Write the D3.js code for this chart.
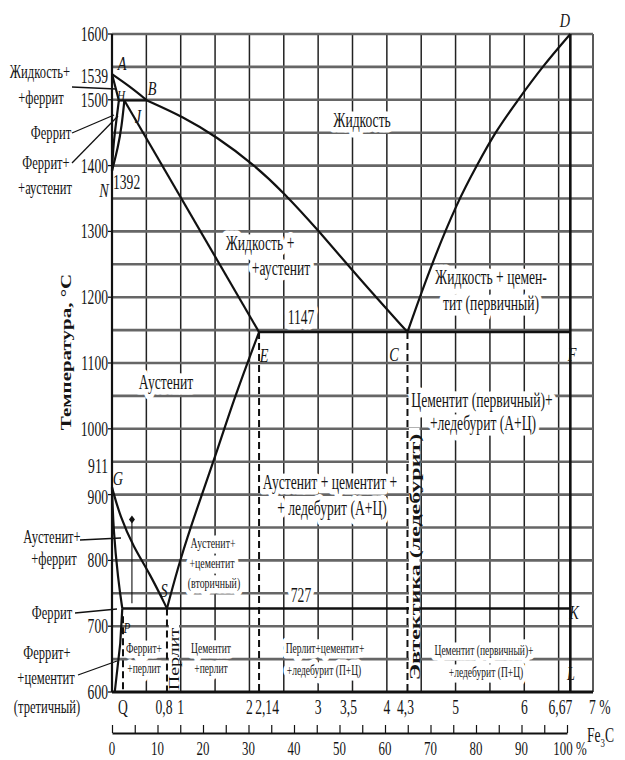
<!DOCTYPE html>
<html><head><meta charset="utf-8">
<script src="https://cdn.jsdelivr.net/npm/d3@7/dist/d3.min.js"></script>
<style>
body{margin:0;background:#fff}
svg{display:block}
text{font-family:"Liberation Serif","Times New Roman",serif;fill:#151515}
</style>
</head><body>
<svg id="chart" width="625" height="760"></svg>
<script>
// ---------------- DATA ----------------
const tempTicks = [600,700,800,900,1000,1100,1200,1300,1400,1500,1600];
const specialTemps = [1539, 911];
const carbonLabelValues = [0.16,0.8,1,2,2.14,3,3.5,4,4.3,5,6,6.67,7];
const carbonLabels = ["Q","0,8","1","2","2,14","3","3,5","4","4,3","5","6","6,67","7 %"];
const fe3cTicks = d3.range(0,101,5);
const fe3cLabelValues = [0,10,20,30,40,50,60,70,80,90,100];
const fe3cLabels = ["0","10","20","30","40","50","60","70","80","90","100 %"];

// phase boundaries: [carbon %, temperature °C]
const lineAB  = [[0,1539],[0.25,1521],[0.51,1499]];
const lineBC  = [[0.51,1499],[1.04,1474],[1.52,1444],[2.06,1402],[2.49,1360],[3.0,1302],[3.6,1228],[4.3,1147]];
const lineAH  = [[0,1539],[0.05,1519],[0.1,1499]];
const lineHJB = [[0.1,1499],[0.51,1499]];
const lineNH  = [[0,1392],[0.02,1433],[0.07,1474],[0.1,1499]];
const lineNJ  = [[0,1392],[0.09,1429],[0.14,1459],[0.18,1499]];
const lineJE  = [[0.18,1499],[2.14,1147]];
const lineECF = [[2.14,1147],[6.67,1147]];
const lineCD  = [[4.3,1147],[4.63,1245],[5.04,1348],[5.31,1400],[5.57,1450],[5.91,1500],[6.26,1550],[6.67,1600]];
const lineGS  = [[0,911],[0.12,866],[0.31,821],[0.55,780],[0.8,727]];
const lineSE  = [[0.8,727],[0.99,801],[1.23,877],[1.52,963],[1.77,1044],[2.14,1147]];
const lineGP  = [[0,911],[0.02,846],[0.09,770],[0.15,727]];
const linePQ  = [[0.15,727],[0.12,674],[0.04,600]];
const linePSK = [[0.15,727],[6.67,727]];
const lineDL  = [[6.67,1600],[6.67,600]];
const dashedLines = [
  [[0.16,715],[0.16,600]],
  [[0.8,727],[0.8,600]],
  [[2.14,1147],[2.14,600]],
  [[4.3,1147],[4.3,600]]
];
const alloyMark = [[0.29,860],[0.29,735]];

// ---------------- SETUP ----------------
const svg = d3.select("#chart");
const cx = d3.scaleLinear().domain([0,7]).range([112,593]);
const ty = d3.scaleLinear().domain([600,1600]).range([692,34]);
const fx = d3.scaleLinear().domain([0,100]).range([112,567]);
const line = d3.line().x(d=>cx(d[0])).y(d=>ty(d[1]));
const curve = d3.line().x(d=>cx(d[0])).y(d=>ty(d[1])).curve(d3.curveBasis);

function T(g, s, x, y, o={}) {
  const size = o.size || 20, sx = o.sx || 0.68;
  let tr = `translate(${x},${y})`;
  tr += o.rotate ? ` rotate(${o.rotate}) scale(1,${sx})` : ` scale(${sx},1)`;
  const t = g.append("text")
    .attr("transform", tr)
    .attr("text-anchor", o.anchor || "middle")
    .attr("dy", o.dy || "0.35em")
    .style("font-size", size + "px");
  if (o.weight) t.style("font-weight", o.weight);
  if (o.italic) t.style("font-style", "italic");
  if (o.ls) t.style("letter-spacing", o.ls + "px");
  if (o.halo) t.attr("stroke","#fff").attr("stroke-width",o.halo)
      .attr("paint-order","stroke").attr("stroke-linejoin","round");
  t.text(s);
  return t;
}

// ---------------- GRID ----------------
const grid = svg.append("g");
grid.selectAll(".v").data(d3.range(0.5,7.01,0.5)).join("line")
  .attr("x1",d=>cx(d)).attr("x2",d=>cx(d)).attr("y1",ty(1600)).attr("y2",ty(600))
  .attr("stroke","#222").attr("stroke-width",1.5);
grid.selectAll(".h").data(d3.range(650,1601,50)).join("line")
  .attr("x1",cx(0)).attr("x2",cx(7)).attr("y1",d=>ty(d)).attr("y2",d=>ty(d))
  .attr("stroke","#666").attr("stroke-width",2.6);

// ---------------- REGION LABELS (with white halo) ----------------
const lab = svg.append("g");
const H = 11;
T(lab,"Жидкость",362,120,{halo:H});
T(lab,"Жидкость +",260,243,{halo:H});
T(lab,"+аустенит",281,268,{halo:H});
T(lab,"1147",301,317,{halo:H});
T(lab,"Жидкость + цемен-",491,277,{halo:H});
T(lab,"тит (первичный)",491,303,{halo:H});
T(lab,"Аустенит",166,382,{halo:H});
T(lab,"Цементит (первичный)+",482,400,{halo:H});
T(lab,"+ледебурит (А+Ц)",483,423,{halo:H});
T(lab,"Аустенит + цементит +",330,482,{halo:H});
T(lab,"+ ледебурит (А+Ц)",332,508,{halo:H});
T(lab,"727",301,595,{halo:H});
T(lab,"Аустенит+",213,543,{size:14.5,halo:H});
T(lab,"+цементит",212,563,{size:14.5,halo:H});
T(lab,"(вторичный)",214,583,{size:14.5,halo:H});
T(lab,"Феррит+",144,648,{size:14,halo:H});
T(lab,"+перлит",144,668,{size:14,halo:H});
T(lab,"Цементит",211,648,{size:14,halo:H});
T(lab,"+перлит",211,668,{size:14,halo:H});
T(lab,"Перлит+цементит+",325,648,{size:14,halo:H});
T(lab,"+ледебурит (П+Ц)",324,670,{size:14,halo:H});
T(lab,"Цементит (первичный)+",484,650,{size:14,halo:H});
T(lab,"+ледебурит (П+Ц)",486,672,{size:14,halo:H});

// ---------------- AXES ----------------
const ax = svg.append("g");
ax.append("line").attr("x1",cx(0)).attr("x2",cx(0)).attr("y1",ty(1600)).attr("y2",ty(600))
  .attr("stroke","#111").attr("stroke-width",2.2);
ax.selectAll(".yt").data(tempTicks).join("line")
  .attr("x1",cx(0)-4).attr("x2",cx(0)).attr("y1",d=>ty(d)).attr("y2",d=>ty(d))
  .attr("stroke","#111").attr("stroke-width",1.3);
tempTicks.forEach(v => T(ax, String(v), 108, ty(v) + (v===900 ? 2 : 0), {anchor:"end"}));
specialTemps.forEach(v => T(ax, String(v), 108, ty(v) + (v===911 ? -21 : 2), {anchor:"end"}));
T(ax,"1392",113,182,{anchor:"start"});
T(ax,"Температура, °C",66,352,{rotate:-90,size:21,weight:"bold",sx:0.72});

carbonLabels.forEach((s,i) => {
  const v = carbonLabelValues[i];
  let x = cx(v), anchor = "middle";
  if (s === "0,8") x -= 3;
  if (s === "2,14") x += 8;
  if (s === "3,5") x -= 4;
  if (s === "4,3") x -= 2;
  if (s === "6,67") x -= 10;
  if (s === "7 %") { x -= 4; anchor = "start"; }
  T(ax, s, x, 707, {anchor});
});

const fAxis = d3.axisBottom(fx).tickValues(fe3cTicks).tickSize(-8).tickFormat("").tickSizeOuter(0);
const fg = ax.append("g").attr("transform","translate(0,733)").call(fAxis);
fg.select(".domain").attr("stroke","#111").attr("stroke-width",2);
fg.selectAll(".tick line").attr("stroke","#111").attr("stroke-width",1.2);
fe3cLabels.forEach((s,i) => T(ax, s, fx(fe3cLabelValues[i]) + (s.length>3 ? 3 : 0), 748, {size:19}));
const fe = ax.append("text").attr("transform","translate(587,742) scale(0.68,1)")
  .style("font-size","20px");
fe.append("tspan").text("Fe");
fe.append("tspan").attr("dy",5).style("font-size","13px").text("3");
fe.append("tspan").attr("dy",-5).text("C");

// ---------------- PHASE LINES ----------------
const ph = svg.append("g").attr("fill","none").attr("stroke","#111").attr("stroke-linejoin","round");
[lineAB,lineBC,lineCD,lineGS,lineSE,lineGP,lineNH,lineNJ,lineAH].forEach(d =>
  ph.append("path").attr("d",curve(d)).attr("stroke-width",2.2));
[lineHJB,lineJE,linePQ].forEach(d => ph.append("path").attr("d",line(d)).attr("stroke-width",2.2));
[lineECF,linePSK].forEach(d => ph.append("path").attr("d",line(d)).attr("stroke-width",2.6));
ph.append("path").attr("d",line(lineDL)).attr("stroke-width",2.6);
ph.append("line").attr("x1",cx(0)).attr("x2",cx(7)).attr("y1",ty(600)).attr("y2",ty(600))
  .attr("stroke-width",3.2);
ph.append("path").attr("d",line(alloyMark)).attr("stroke-width",1.1);
const mk = [cx(0.29), ty(862)];
ph.append("path").attr("d",`M${mk[0]},${mk[1]-4}L${mk[0]+3},${mk[1]}L${mk[0]},${mk[1]+4}L${mk[0]-3},${mk[1]}Z`)
  .attr("fill","#111").attr("stroke","none");

svg.append("rect").attr("x",409).attr("y",428).attr("width",10.5).attr("height",ty(600)-430).attr("fill","#fff");
svg.append("rect").attr("x",169).attr("y",624).attr("width",10).attr("height",ty(600)-626).attr("fill","#fff");

const dg = svg.append("g").attr("fill","none").attr("stroke","#111").attr("stroke-width",2).attr("stroke-dasharray","7,4");
dashedLines.forEach(d => dg.append("path").attr("d",line(d)));

const vl = svg.append("g");
T(vl,"Эвтектика (ледебурит)",415,557,{rotate:-90,size:24,weight:"bold",sx:0.62});
T(vl,"Перлит",174,659,{rotate:-90,size:20,sx:0.68});

// ---------------- LEFT LABELS + LEADERS ----------------
const ll = svg.append("g");
const LS = 18.5;
T(ll,"Жидкость+",40,72,{size:LS});
T(ll,"+феррит",41,98,{size:LS});
T(ll,"Феррит",51,133,{size:LS});
T(ll,"Феррит+",46,163,{size:LS});
T(ll,"+аустенит",45,188,{size:LS});
T(ll,"Аустенит+",52,537,{size:LS});
T(ll,"+феррит",54,559,{size:LS});
T(ll,"Феррит",52,613,{size:LS});
T(ll,"Феррит+",47,653,{size:LS});
T(ll,"+цементит",46,678,{size:LS});
T(ll,"(третичный)",47,707,{size:LS});
const leaders = [
  [[72,87],[116,89]],
  [[72,133],[114,115]],
  [[72,163],[118,116]],
  [[80,540],[121,538]],
  [[75,613],[117,609]],
  [[78,675],[117,661]]
];
leaders.forEach(p => ll.append("line").attr("x1",p[0][0]).attr("y1",p[0][1]).attr("x2",p[1][0]).attr("y2",p[1][1])
  .attr("stroke","#111").attr("stroke-width",1.3));

// ---------------- POINT LETTERS ----------------
const pl = svg.append("g");
const letters = [["A",122,63],["B",152,88],["H",121,96],["J",138,116],["N",104,190],["D",565,20],
  ["E",264,355],["C",394,354],["F",572,354],["G",118,478],["S",164,590],["K",574,612],["L",571,673],["P",127,628]];
letters.forEach(l => T(pl,l[0],l[1],l[2],{italic:true,size:(l[0]==="H"||l[0]==="P")?15:19,sx:0.75}));
</script>
</body></html>
